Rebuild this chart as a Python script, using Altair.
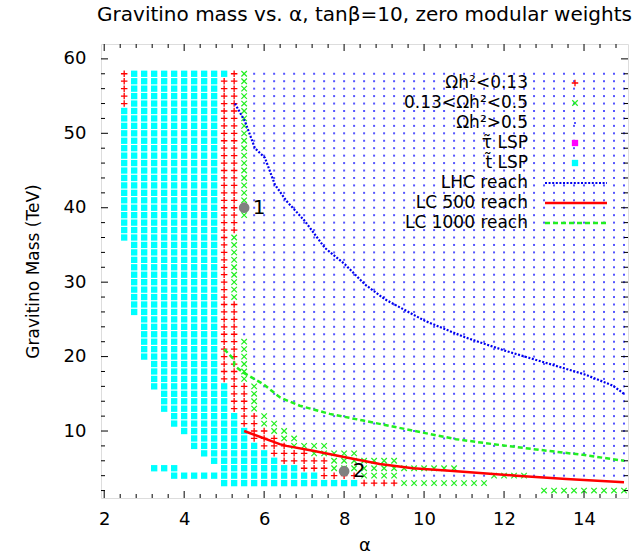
import altair as alt
import pandas as pd

# ---------------- scan grid, read off the picture as blocks (painted in order) ----------------
# category, alpha from, alpha to, mass from, mass to  (alpha step 0.25, mass step 1 TeV)
blk_cat = (["dm_high", "dm_high"] +
           ["stop"] * 18 +
           ["dm_low"] * 15 +
           ["dm_mid"] * 16)
blk_a0 = [5.25, 9.5,
          2.75, 2.75, 2.5, 2.75, 3.0, 3.25, 3.25, 3.5, 3.75, 4.0, 4.25, 4.25, 4.5, 4.75, 3.25, 5.0, 3.75, 5.0,
          2.5, 5.25, 5.0, 5.0, 5.0, 5.25, 5.5, 5.75, 5.75, 6.0, 6.25, 6.5, 7.0, 7.5, 8.5,
          5.5, 5.25, 5.5, 5.75, 6.0, 6.0, 6.25, 6.5, 6.75, 7.25, 7.75, 7.75, 8.5, 11.75, 9.5, 13.0]
blk_a1 = [15.0, 15.0,
          5.0, 4.75, 4.75, 4.75, 4.75, 4.75, 5.0, 5.0, 5.25, 5.5, 5.5, 5.75, 6.0, 6.25, 3.75, 6.75, 7.25, 8.25,
          2.5, 5.25, 5.25, 5.0, 5.25, 5.5, 5.75, 6.0, 6.25, 6.5, 7.0, 7.5, 7.5, 8.25, 9.25,
          5.5, 5.25, 5.5, 5.75, 6.0, 6.25, 6.5, 6.75, 7.5, 8.25, 9.25, 10.75, 9.25, 12.5, 11.5, 15.0]
blk_m0 = [5, 4,
          58, 54, 36, 26, 20, 17, 16, 13, 11, 10, 9, 8, 7, 6, 5, 5, 4, 3,
          54, 58, 37, 28, 17, 13, 11, 10, 9, 8, 7, 6, 5, 4, 3,
          39, 28, 17, 13, 12, 11, 10, 9, 8, 7, 6, 5, 4, 4, 3, 2]
blk_m1 = [58, 4,
          58, 57, 53, 35, 25, 19, 16, 15, 12, 10, 9, 8, 7, 6, 5, 5, 4, 3,
          58, 58, 57, 36, 27, 16, 12, 10, 9, 8, 7, 6, 5, 4, 3,
          58, 36, 22, 16, 12, 11, 10, 9, 8, 7, 6, 5, 4, 4, 3, 2]

# ---------------- reach curves ----------------
lhc_alpha = [5.27, 5.52, 5.77, 6.02, 6.27, 6.56, 7.02, 7.27, 7.52, 8.02, 8.52, 9.02, 10.02, 11.02, 12.02, 13.02, 14.02, 14.72, 15.0]
lhc_mass = [54.0, 51.6, 48.0, 46.7, 43.1, 40.9, 38.2, 36.4, 34.6, 32.4, 29.7, 27.7, 24.8, 22.6, 20.8, 19.2, 17.6, 16.1, 15.0]

lc500_alpha = [5.5, 6.39, 6.56, 7.22, 8.06, 8.89, 9.72, 10.64, 12.31, 13.56, 15.0]
lc500_mass = [10.0, 8.24, 8.0, 7.35, 6.44, 5.56, 5.0, 4.66, 3.99, 3.55, 3.1]

lc1000_alpha = [5.0, 5.25, 5.25, 5.48, 5.98, 6.4, 6.89, 7.64, 8.48, 9.31, 10.14, 10.8, 11.72, 12.72, 13.97, 15.0]
lc1000_mass = [21.0, 19.6, 18.8, 17.85, 16.3, 14.5, 13.4, 12.3, 11.4, 10.5, 9.6, 8.9, 8.24, 7.57, 6.8, 6.0]

# benchmark points
pt_alpha = [5.5, 8.0]
pt_mass = [40.0, 4.6]
pt_label = ["1", "2"]

# axes
x_major = [2, 4, 6, 8, 10, 12, 14]
x_minor = [2.4, 2.8, 3.2, 3.6, 4.4, 4.8, 5.2, 5.6, 6.4, 6.8, 7.2, 7.6, 8.4, 8.8, 9.2, 9.6,
           10.4, 10.8, 11.2, 11.6, 12.4, 12.8, 13.2, 13.6, 14.4, 14.8]
y_major = [10, 20, 30, 40, 50, 60]
y_minor = [2, 4, 6, 8, 12, 14, 16, 18, 22, 24, 26, 28, 32, 34, 36, 38, 42, 44, 46, 48, 52, 54, 56, 58]

leg_labels = ["Ωh²<0.13", "0.13<Ωh²<0.5", "Ωh²>0.5", "τ̃ LSP", "t̃ LSP",
              "LHC reach", "LC 500 reach", "LC 1000 reach"]

# ---------------- build grid ----------------
cells = {}
for c, a0, a1, m0, m1 in zip(blk_cat, blk_a0, blk_a1, blk_m0, blk_m1):
    i0 = round((a0 - 2.5) / 0.25)
    i1 = round((a1 - 2.5) / 0.25)
    for i in range(i0, i1 + 1):
        for m in range(m0, m1 + 1):
            cells[(i, m)] = c
grid = pd.DataFrame([{"alpha": 2.5 + 0.25 * i, "mass": m, "cat": c} for (i, m), c in cells.items()])

W, H = 527, 454
FONT = "DejaVu Sans"
RED, GREEN, BLUE, CYAN, MAG = "#ff0000", "#22ee22", "#2b2bff", "#00ffff", "#ff00ff"
PLUS = "M-1,0L1,0M0,-1L0,1"
XSHAPE = "M-1,-1L1,1M-1,1L1,-1"

xscale = alt.Scale(domain=[1.92, 15.1], nice=False, zero=False)
yscale = alt.Scale(domain=[1, 62], nice=False, zero=False)
xaxis = alt.Axis(values=x_major, ticks=False, domain=False, grid=False, labelFontSize=18,
                 labelFont=FONT, labelPadding=12, labelColor="black",
                 title="α", titleFont=FONT, titleFontSize=18, titleFontWeight="normal",
                 titleX=263.5, titleY=47, titleBaseline="middle", titleColor="black")
yaxis = alt.Axis(values=y_major, ticks=False, domain=False, grid=False, labelFontSize=18,
                 labelFont=FONT, labelPadding=15, labelColor="black",
                 title="Gravitino Mass (TeV)", titleFont=FONT, titleFontSize=17,
                 titleFontWeight="normal", titleAngle=-90, titleX=-68, titleY=227,
                 titleAlign="center", titleBaseline="middle", titleColor="black")
X = alt.X("alpha:Q", scale=xscale, axis=xaxis)
Y = alt.Y("mass:Q", scale=yscale, axis=yaxis)


def sub(cat):
    return grid[grid["cat"] == cat]


layers = []
layers.append(alt.Chart(sub("dm_high")).mark_square(size=4, color=BLUE, opacity=0.8).encode(x=X, y=Y))
layers.append(alt.Chart(sub("stop")).mark_square(size=40, color=CYAN, opacity=1).encode(x=X, y=Y))
layers.append(alt.Chart(sub("dm_low")).mark_point(shape=PLUS, size=42, filled=False, stroke=RED,
                                                  strokeWidth=1.3, opacity=1).encode(x=X, y=Y))
layers.append(alt.Chart(sub("dm_mid")).mark_point(shape=XSHAPE, size=30, filled=False, stroke=GREEN,
                                                  strokeWidth=1.2, opacity=1).encode(x=X, y=Y))

lhc = pd.DataFrame({"alpha": lhc_alpha, "mass": lhc_mass})
lc5 = pd.DataFrame({"alpha": lc500_alpha, "mass": lc500_mass})
lc10 = pd.DataFrame({"alpha": lc1000_alpha, "mass": lc1000_mass})
layers.append(alt.Chart(lhc).mark_line(color="#0000ee", strokeWidth=2.2, strokeDash=[2, 1.6]).encode(x=X, y=Y, order="alpha:Q"))
layers.append(alt.Chart(lc5).mark_line(color=RED, strokeWidth=2.5).encode(x=X, y=Y, order=alt.Order("alpha:Q")))
layers.append(alt.Chart(lc10).mark_line(color=GREEN, strokeWidth=2.5, strokeDash=[5, 3]).encode(x=X, y=Y, order=alt.Order("alpha:Q")))

pts = pd.DataFrame({"alpha": pt_alpha, "mass": pt_mass, "lab": pt_label})
layers.append(alt.Chart(pts).mark_circle(size=115, color="#808080", opacity=1).encode(x=X, y=Y))
layers.append(alt.Chart(pts).mark_text(font=FONT, fontSize=20, align="center", baseline="middle",
                                       dx=15, color="black").encode(x=X, y=Y, text="lab:N"))

# inward ticks on all four sides
xmaj = pd.DataFrame({"alpha": x_major})
xmin = pd.DataFrame({"alpha": x_minor})
ymaj = pd.DataFrame({"mass": y_major})
ymin = pd.DataFrame({"mass": y_minor})
for df, ln in ((xmaj, 7), (xmin, 4)):
    layers.append(alt.Chart(df).mark_rule(color="black", strokeWidth=1).encode(
        x=X, y=alt.value(H), y2=alt.value(H - ln)))
    layers.append(alt.Chart(df).mark_rule(color="black", strokeWidth=1).encode(
        x=X, y=alt.value(0), y2=alt.value(ln)))
for df, ln in ((ymaj, 7), (ymin, 4)):
    layers.append(alt.Chart(df).mark_rule(color="black", strokeWidth=1).encode(
        y=Y, x=alt.value(0), x2=alt.value(ln)))
    layers.append(alt.Chart(df).mark_rule(color="black", strokeWidth=1).encode(
        y=Y, x=alt.value(W), x2=alt.value(W - ln)))

# legend (drawn inside the plot, gnuplot style)
one = pd.DataFrame({"k": [0]})
for i, lab in enumerate(leg_labels):
    py = 39 + 20 * i
    layers.append(alt.Chart(pd.DataFrame({"t": [lab]})).mark_text(
        font=FONT, fontSize=17, align="right", baseline="middle", color="black").encode(
        text="t:N", x=alt.value(427), y=alt.value(py)))
sx = 474
layers.append(alt.Chart(one).mark_point(shape=PLUS, size=42, filled=False, stroke=RED, strokeWidth=1.3,
                                        opacity=1).encode(x=alt.value(sx), y=alt.value(39)))
layers.append(alt.Chart(one).mark_point(shape=XSHAPE, size=30, filled=False, stroke=GREEN, strokeWidth=1.2,
                                        opacity=1).encode(x=alt.value(sx), y=alt.value(59)))
layers.append(alt.Chart(one).mark_square(size=4, color=BLUE, opacity=0.8).encode(x=alt.value(sx), y=alt.value(79)))
layers.append(alt.Chart(one).mark_square(size=40, color=MAG, opacity=1).encode(x=alt.value(sx), y=alt.value(99)))
layers.append(alt.Chart(one).mark_square(size=40, color=CYAN, opacity=1).encode(x=alt.value(sx), y=alt.value(119)))
layers.append(alt.Chart(one).mark_rule(color="#0000ee", strokeWidth=2.2, strokeDash=[2, 1.6]).encode(
    x=alt.value(444), x2=alt.value(506), y=alt.value(139)))
layers.append(alt.Chart(one).mark_rule(color=RED, strokeWidth=2.5).encode(
    x=alt.value(444), x2=alt.value(506), y=alt.value(159)))
layers.append(alt.Chart(one).mark_rule(color=GREEN, strokeWidth=2.5, strokeDash=[5, 3]).encode(
    x=alt.value(444), x2=alt.value(506), y=alt.value(179)))

chart = alt.layer(*layers).properties(
    width=W, height=H,
    title=alt.Title("Gravitino mass vs. α, tanβ=10, zero modular weights", font=FONT, fontSize=20,
                    fontWeight="normal", anchor="middle", frame="group", baseline="alphabetic",
                    offset=3, color="black"),
    padding={"left": 101, "top": 44, "right": 11, "bottom": 62},
    autosize=alt.AutoSizeParams(type="none"),
).configure_view(stroke="black", strokeWidth=1.5).configure(background="white")

chart.save("out.html", embed_options={"renderer": "svg", "actions": False})
